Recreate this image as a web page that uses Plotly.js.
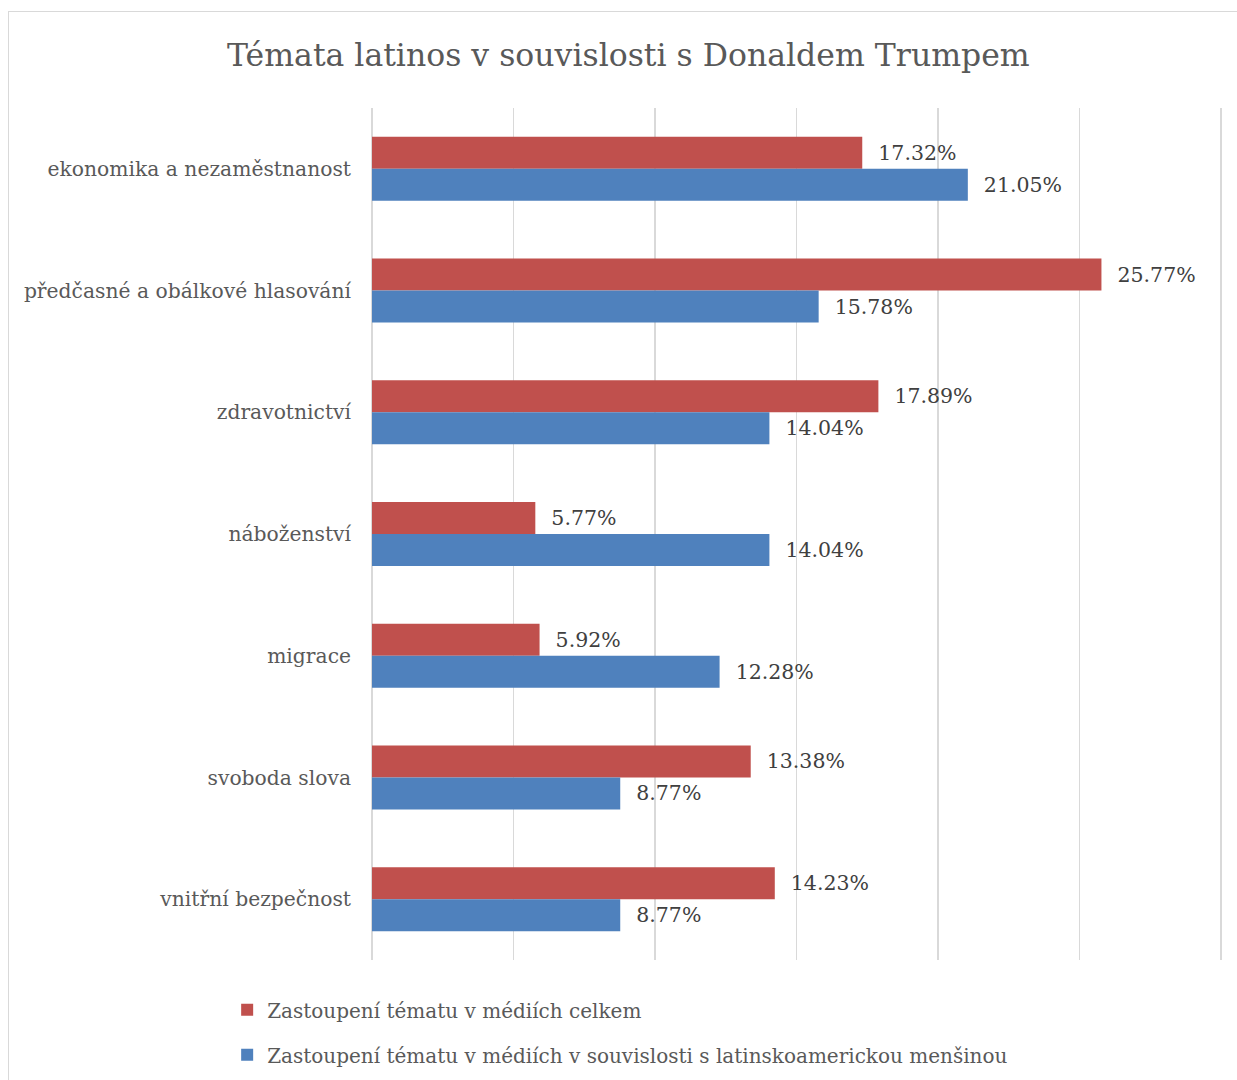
<!DOCTYPE html>
<html>
<head>
<meta charset="utf-8">
<script src="https://cdn.plot.ly/plotly-3.0.1.min.js"></script>
<style>
html,body{margin:0;padding:0;background:#fff;}
#frame{position:absolute;left:8px;top:11px;width:1240px;height:1080px;border:1.5px solid #d9d9d9;box-sizing:border-box;}
#chart{position:absolute;left:0;top:0;width:1237px;height:1080px;}
</style>
</head>
<body>
<div id="frame"></div>
<div id="chart"></div>
<script>
const categories = ["ekonomika a nezaměstnanost","předčasné a obálkové hlasování","zdravotnictví","náboženství","migrace","svoboda slova","vnitřní bezpečnost"];
const celkem = [17.32, 25.77, 17.89, 5.77, 5.92, 13.38, 14.23];
const latino = [21.05, 15.78, 14.04, 14.04, 12.28, 8.77, 8.77];
const seriesNames = ["Zastoupení tématu v médiích celkem","Zastoupení tématu v médiích v souvislosti s latinskoamerickou menšinou"];
const titleText = "Témata latinos v souvislosti s Donaldem Trumpem";

const FONT = "DejaVu Serif";
const labelFont = {family: FONT, size: 20.5, color: "#404040"};

const traces = [
  {type:"bar", orientation:"h", name:seriesNames[0], y:categories, x:celkem,
   marker:{color:"#C0504D"}, texttemplate:"\u00a0\u00a0%{x:.2f}%", textposition:"outside",
   textfont:labelFont, cliponaxis:false, legendgroup:"a", hoverinfo:"x+y"},
  {type:"bar", orientation:"h", name:seriesNames[1], y:categories, x:latino,
   marker:{color:"#4F81BD"}, texttemplate:"\u00a0\u00a0%{x:.2f}%", textposition:"outside",
   textfont:labelFont, cliponaxis:false, legendgroup:"b", hoverinfo:"x+y"}
];

const layout = {
  width:1237, height:1080,
  paper_bgcolor:"rgba(0,0,0,0)", plot_bgcolor:"rgba(0,0,0,0)",
  margin:{l:372, r:13, t:108, b:120},
  title:{text:titleText, x:0.508, xanchor:"center", y:0.949, yanchor:"middle",
         font:{family:FONT, size:31.5, color:"#595959"}},
  barmode:"group", bargap:0.474, bargroupgap:0,
  xaxis:{range:[0,30.1], dtick:5, tick0:0, showticklabels:false, showgrid:true, gridcolor:"#d9d9d9", gridwidth:1.5,
         zeroline:true, zerolinecolor:"#d9d9d9", zerolinewidth:1.5, showline:false, fixedrange:true},
  yaxis:{autorange:"reversed", ticks:"", showgrid:false, showline:false, ticklabelstandoff:20,
         tickfont:{family:FONT, size:20.3, color:"#595959"}},
  showlegend:true,
  legend:{orientation:"v", x:-0.170, xanchor:"left", yref:"container", y:0.083, yanchor:"top",
          traceorder:"grouped", tracegroupgap:16,
          font:{family:FONT, size:20, color:"#595959"}, itemwidth:30},
  font:{family:FONT}
};

Plotly.newPlot("chart", traces, layout, {displayModeBar:false, staticPlot:true});
</script>
</body>
</html>
